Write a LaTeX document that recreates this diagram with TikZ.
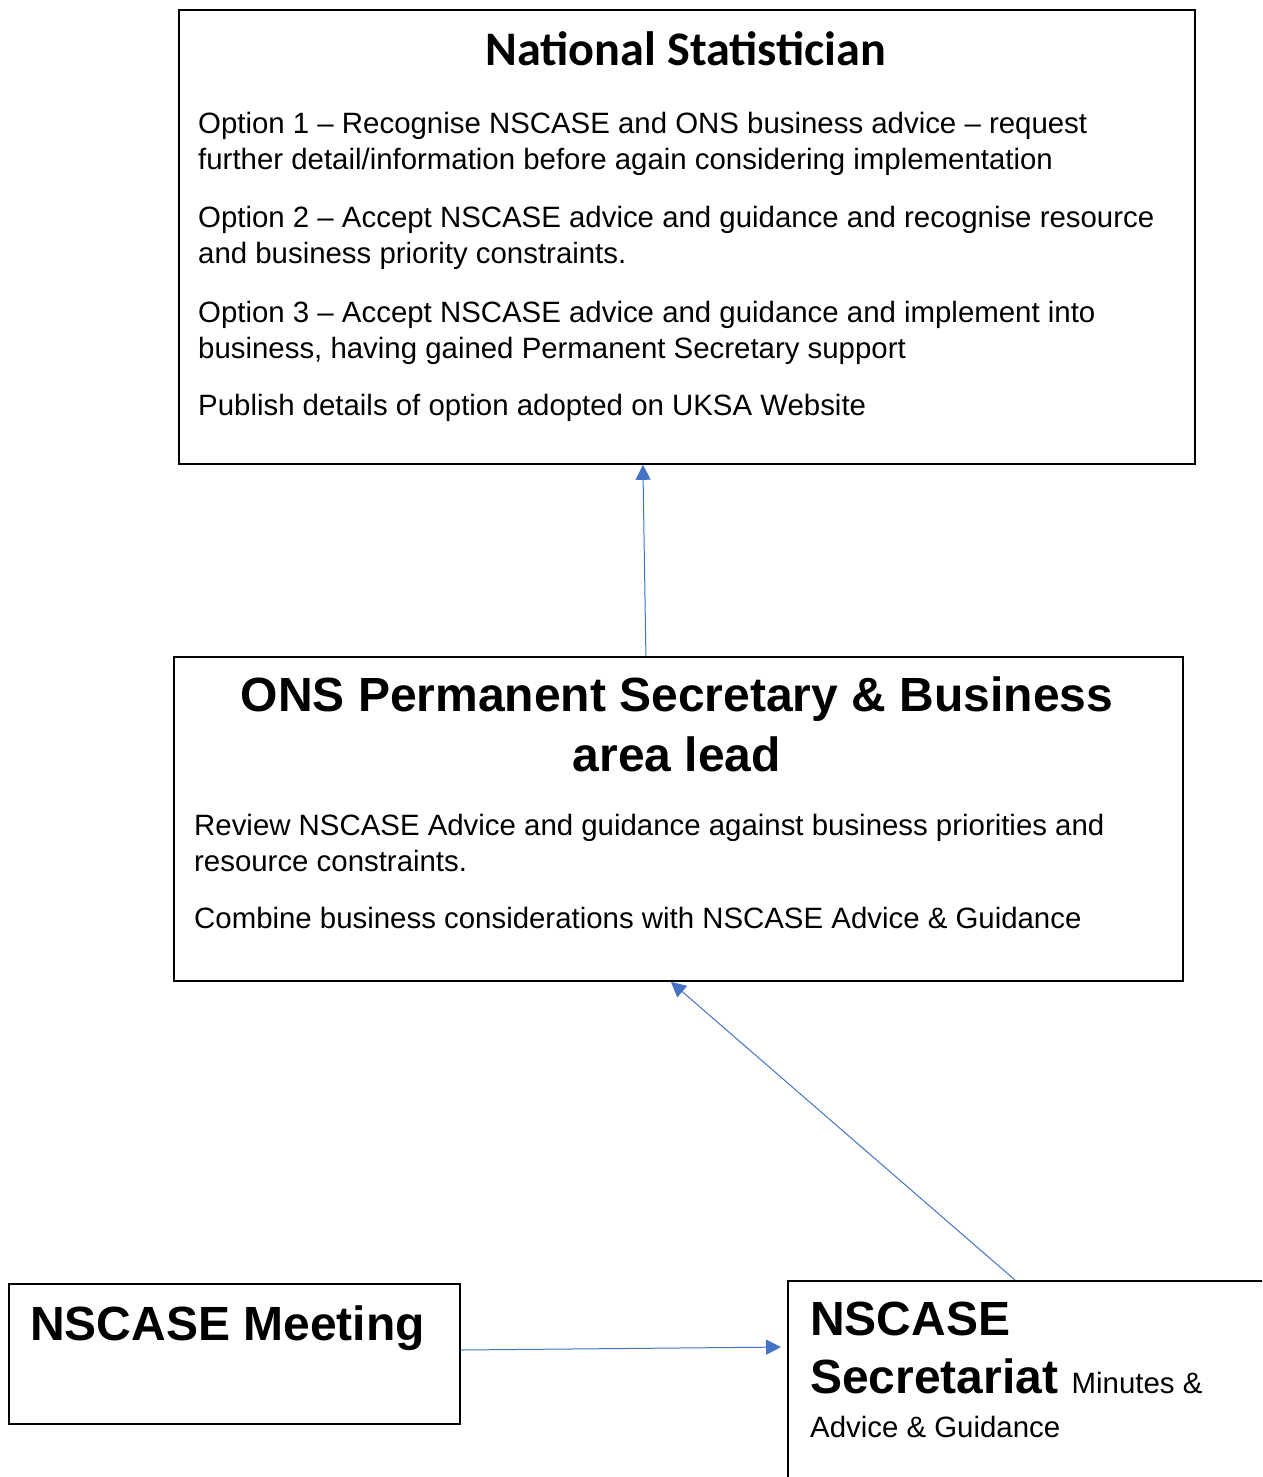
\documentclass[tikz,border=0pt]{standalone}
\usepackage{fontspec}
\setmainfont{Liberation Sans}
\newfontfamily\calibri{Carlito}
\usetikzlibrary{arrows.meta}

\definecolor{linkblue}{HTML}{4472C4}

\tikzset{
  box/.style={draw, line width=1.8pt, inner sep=0pt, anchor=north west},
  body/.style={anchor=base west, inner sep=0pt, align=left, font=\fontsize{29.4}{36}\selectfont},
  head/.style={inner sep=0pt, font=\fontsize{48}{60}\selectfont\bfseries},
  link/.style={draw=linkblue, line width=1pt, -{Triangle[length=15pt, width=15pt]}}
}

\begin{document}
\begin{tikzpicture}[x=1pt, y=-1pt]
\useasboundingbox (0, 0) rectangle (1262, 1477);
\clip (0, 0) rectangle (1262, 1477);

\node [box, minimum width=1016pt, minimum height=454pt] (nat) at (178, 9) {};
\node [box, minimum width=1009pt, minimum height=324pt] (ons) at (173, 656) {};
\node [box, minimum width=451pt, minimum height=140pt] (meet) at (8, 1283) {};
\node [box, minimum width=520pt, minimum height=240pt] (secr) at (787, 1280) {};

% top box (multi-line nodes sit on the baseline of their last line)
\node [inner sep=0pt, anchor=base, font=\fontsize{48.2}{56}\selectfont\calibri\bfseries] (natTitle) at (686, 66) {National Statistician};
\node [body] (opt1) at (198, 169) {Option 1 -- Recognise NSCASE and ONS business advice -- request\\further detail/information before again considering implementation};
\node [body] (opt2) at (198, 263) {Option 2 -- Accept NSCASE advice and guidance and recognise resource\\and business priority constraints.};
\node [body] (opt3) at (198, 358) {Option 3 -- Accept NSCASE advice and guidance and implement into\\business, having gained Permanent Secretary support};
\node [body] (publish) at (198, 415) {Publish details of option adopted on UKSA Website};

% middle box
\node [head, anchor=base, align=center] (onsTitle) at (677, 771) {ONS Permanent Secretary \& Business\\area lead};
\node [body] (review) at (194, 871) {Review NSCASE Advice and guidance against business priorities and\\resource constraints.};
\node [body] (combine) at (194, 928) {Combine business considerations with NSCASE Advice \& Guidance};

% bottom boxes
\node [head, anchor=base west] (meetTitle) at (30, 1340) {NSCASE Meeting};
\node [head, anchor=base west] (secrTitle) at (810, 1335) {NSCASE};
\node [head, anchor=base west] (secrSub) at (810, 1393) {Secretariat {\mdseries\fontsize{29.4}{36}\selectfont Minutes \&}};
\node [body] (secrNote) at (810, 1437) {Advice \& Guidance};

\draw [link] ([xshift=-32.5pt]ons.north) -- ([xshift=-44pt]nat.south);
\draw [link] ([xshift=228pt]secr.north west) -- ([xshift=-7.5pt]ons.south);
\draw [link, shorten >=6pt] ([yshift=-67pt]meet.north east) -- ([yshift=-67pt]secr.north west);

\end{tikzpicture}
\end{document}
